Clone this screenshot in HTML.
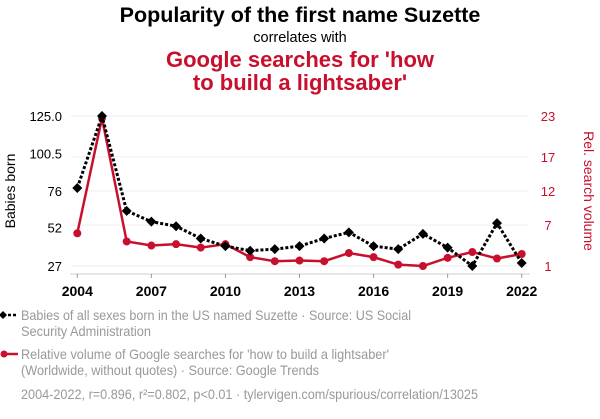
<!DOCTYPE html>
<html><head><meta charset="utf-8"><style>
body{margin:0;background:#fff;width:600px;height:414px;overflow:hidden;font-family:"Liberation Sans",sans-serif}
svg text{font-family:"Liberation Sans",sans-serif}
</style></head><body>
<svg id="chart" width="600" height="414" xmlns="http://www.w3.org/2000/svg">
<text x="300" y="22" text-anchor="middle" font-size="21.5" font-weight="bold" fill="#000">Popularity of the first name Suzette</text>
<text x="300" y="42" text-anchor="middle" font-size="14.5" fill="#000">correlates with</text>
<text x="300" y="67" text-anchor="middle" font-size="22" font-weight="bold" fill="#c8102e">Google searches for 'how</text>
<text x="300" y="90" text-anchor="middle" font-size="22" font-weight="bold" fill="#c8102e">to build a lightsaber'</text>
<text transform="translate(15,191) rotate(-90)" text-anchor="middle" font-size="14" fill="#000">Babies born</text>
<text transform="translate(584,191) rotate(90)" text-anchor="middle" font-size="14" fill="#c8102e">Rel. search volume</text>
<g id="grid"></g><g id="axes"></g><g id="marks"></g>
<g>
<line x1="3" y1="315" x2="18" y2="315" stroke="#000" stroke-width="2.5" stroke-dasharray="3,2"/>
<path d="M3 311 L7 315 L3 319 L-1 315Z" fill="#000"/>
<text x="21" y="320" font-size="14" fill="#999" textLength="390" lengthAdjust="spacingAndGlyphs">Babies of all sexes born in the US named Suzette · Source: US Social</text>
<text x="21" y="336" font-size="14" fill="#999" textLength="130" lengthAdjust="spacingAndGlyphs">Security Administration</text>
</g>
<g>
<line x1="3" y1="354" x2="18" y2="354" stroke="#c8102e" stroke-width="2.5"/>
<circle cx="4" cy="354" r="3.5" fill="#c8102e"/>
<text x="21" y="359" font-size="14" fill="#999" textLength="368" lengthAdjust="spacingAndGlyphs">Relative volume of Google searches for 'how to build a lightsaber'</text>
<text x="21" y="375" font-size="14" fill="#999" textLength="298" lengthAdjust="spacingAndGlyphs">(Worldwide, without quotes) · Source: Google Trends</text>
</g>
<text x="21" y="399" font-size="14" fill="#999" textLength="457" lengthAdjust="spacingAndGlyphs">2004-2022, r=0.896, r²=0.802, p&lt;0.01 · tylervigen.com/spurious/correlation/13025</text>
</svg>
<script>
const years=[2004,2005,2006,2007,2008,2009,2010,2011,2012,2013,2014,2015,2016,2017,2018,2019,2020,2021,2022];
const babies=[78,125,63,56,53,45,40,37,38,40,45,49,40,38,48,39,27,55,29];
const searches=[5.8,22.7,4.6,4.0,4.2,3.7,4.2,2.3,1.7,1.8,1.7,2.9,2.3,1.2,1.0,2.2,3.05,2.1,2.76];
const leftTicks=[27,52,76,100.5,125];
const leftTickLabels=["27","52","76","100.5","125.0"];
const rightTicks=[1,7,12,17,23];
const xTicks=[2004,2007,2010,2013,2016,2019,2022];
const NS="http://www.w3.org/2000/svg";
const X=y=>77.3+(y-2004)*(521.7-77.3)/18;
const YL=v=>266-(v-27)*150/98;
const YR=v=>266-(v-1)*150/22;
function mk(t,a,p){const e=document.createElementNS(NS,t);for(const k in a)e.setAttribute(k,a[k]);p.appendChild(e);return e;}
const grid=document.getElementById('grid'),axes=document.getElementById('axes'),marks=document.getElementById('marks');
rightTicks.forEach((v,i)=>{const l=mk('line',{x1:71,x2:528,y1:YR(v),y2:YR(v),stroke:'#eee','stroke-width':1},grid);

});
leftTicks.forEach((v,i)=>{const t=mk('text',{x:62,y:YL(v)+5,'text-anchor':'end','font-size':13,fill:'#000'},axes);t.textContent=leftTickLabels[i];

});
rightTicks.forEach(v=>{const t=mk('text',{x:548,y:YR(v)+5,'text-anchor':'middle','font-size':13,fill:'#c8102e'},axes);t.textContent=v;

});
const ax=mk('line',{x1:70,x2:530,y1:274,y2:274,stroke:'#ccc','stroke-width':1},axes);


xTicks.forEach(y=>{const tk=mk('line',{x1:X(y),x2:X(y),y1:274,y2:278,stroke:'#999'},axes);


const t=mk('text',{x:X(y),y:296,'text-anchor':'middle','font-size':14,'font-weight':'bold',fill:'#000'},axes);t.textContent=y;

});
const rl=mk('polyline',{points:years.map((y,i)=>X(y)+','+YR(searches[i])).join(' '),fill:'none',stroke:'#c8102e','stroke-width':2.5},marks);


years.forEach((y,i)=>{const c=mk('circle',{cx:X(y),cy:YR(searches[i]),r:4,fill:'#c8102e'},marks);

});
const bl=mk('polyline',{points:years.map((y,i)=>X(y)+','+YL(babies[i])).join(' '),fill:'none',stroke:'#000','stroke-width':3,'stroke-dasharray':'3,2'},marks);


years.forEach((y,i)=>{const x=X(y),yy=YL(babies[i]);const p=mk('path',{d:`M${x} ${yy-5}L${x+5} ${yy}L${x} ${yy+5}L${x-5} ${yy}Z`,fill:'#000'},marks);

});
</script>
</body></html>
